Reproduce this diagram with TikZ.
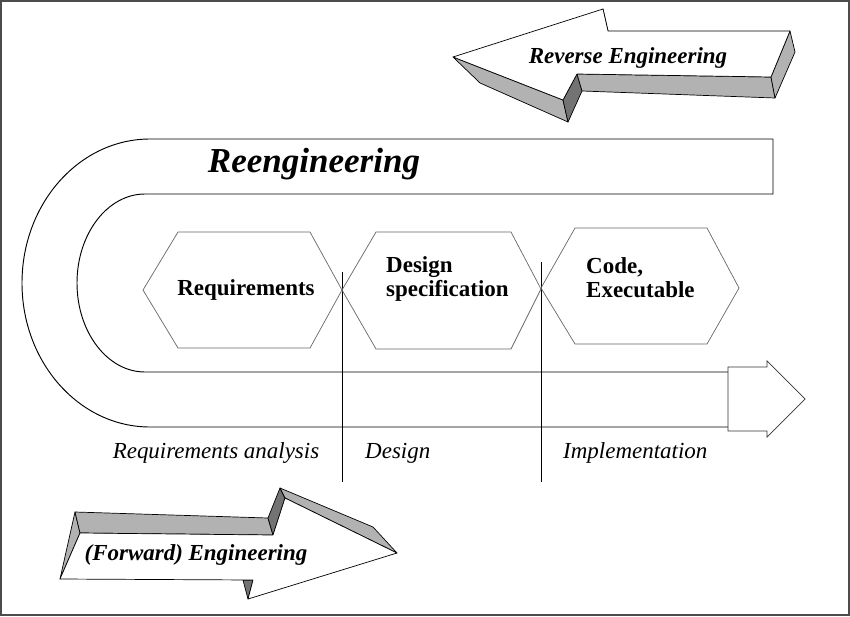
\documentclass[tikz,border=0pt]{standalone}
\usepackage{fontspec}
\setmainfont{Liberation Serif}
\begin{document}
\begin{tikzpicture}[x=0.03cm, y=-0.03cm,
        txt/.style={font=\fontsize{19.6pt}{20.5pt}\selectfont\bfseries, inner sep=0pt},
        txtit/.style={font=\fontsize{19.6pt}{20.5pt}\selectfont\itshape, inner sep=0pt},
        txtbi/.style={font=\fontsize{19.6pt}{20.5pt}\selectfont\bfseries\itshape, inner sep=0pt},
        hexa/.style={draw=black!60, line width=0.6pt},
        face/.style={draw, fill=white, line width=0.6pt, line join=round},
        side/.style={draw, fill=black!30, line width=0.6pt, line join=round},
        notch/.style={draw, fill=black!55, line width=0.6pt, line join=round}
    ]
        \useasboundingbox (0,0) rectangle (850,616);
        \draw[black!70, line width=1.2pt] (1,1) rectangle (849,615);

        % Reengineering band
        \draw[line width=0.8pt] (773,139) -- (150,139)
            arc[start angle=270, end angle=90, x radius=128, y radius=144] -- (728,427);
        \draw[line width=0.8pt] (773,139) -- (773,194) -- (145,194)
            arc[start angle=270, end angle=90, x radius=68, y radius=89] -- (728,372);
        \draw[black!80, line width=0.6pt] (728,367) -- (767,367) -- (767,361) -- (805,399)
            -- (767,437) -- (767,431) -- (728,431) -- cycle;

        % Phase borders
        \draw[line width=0.7pt] (342,272) -- (342,482);
        \draw[line width=0.7pt] (541,262) -- (541,482);

        % Hexagons
        \draw[hexa] (143,290) -- (178,232) -- (310,232) -- (342,290) -- (310,348) -- (178,348) -- cycle;
        \draw[hexa] (342,290) -- (376,232) -- (511,232) -- (541,289) -- (511,349) -- (376,349) -- cycle;
        \draw[hexa] (541,288) -- (575,228) -- (707,228) -- (739,288) -- (707,344) -- (575,344) -- cycle;

        % Reverse arrow
        \draw[side] (453,57) -- (480,83) -- (568,122) -- (563,100) -- cycle;
        \draw[notch] (577,74) -- (563,100) -- (568,122) -- (582,91) -- cycle;
        \draw[side] (577,74) -- (771,77) -- (775,98) -- (582,91) -- cycle;
        \draw[side] (790,31) -- (795,52) -- (775,98) -- (771,77) -- cycle;
        \draw[notch] (603,9) -- (608,31) -- (595,31) -- cycle;
        \draw[face] (453,57) -- (603,9) -- (608,31) -- (790,31) -- (771,77) -- (577,74) -- (563,100) -- cycle;

        % Forward arrow
        \draw[side] (75,512) -- (80,533) -- (60,579) -- cycle;
        \draw[side] (75,512) -- (268,518) -- (273,535) -- (80,533) -- cycle;
        \draw[notch] (268,518) -- (280,488) -- (285,498) -- (273,535) -- cycle;
        \draw[side] (280,488) -- (373,527) -- (397,553) -- (285,498) -- cycle;
        \draw[notch] (243,580) -- (253,580) -- (248,599) -- cycle;
        \draw[face] (60,579) -- (80,533) -- (273,535) -- (285,498) -- (397,553) -- (248,599) -- (253,580) -- cycle;

        % Labels
        \node[txtbi, anchor=base] (rev) at (628,63) {Reverse Engineering};
        \node[font=\fontsize{29.9pt}{32pt}\selectfont\bfseries\itshape, inner sep=0pt, anchor=base] (reeng) at (314,172) {Reengineering};
        \node[txt, anchor=base] (req) at (246,295) {Requirements};
        \node[txt, align=left, anchor=north west] (dspec) at (386,256) {Design\\specification};
        \node[txt, align=left, anchor=north west] (code) at (586,257) {Code,\\Executable};
        \node[txtit, anchor=base] (anreq) at (216,458) {Requirements analysis};
        \node[txtit, anchor=base west] (andes) at (365,458) {Design};
        \node[txtit, anchor=base west] (animp) at (563,458) {Implementation};
        \node[txtbi, anchor=base] (fwd) at (196,560) {(Forward) Engineering};
    \end{tikzpicture}
\end{document}
